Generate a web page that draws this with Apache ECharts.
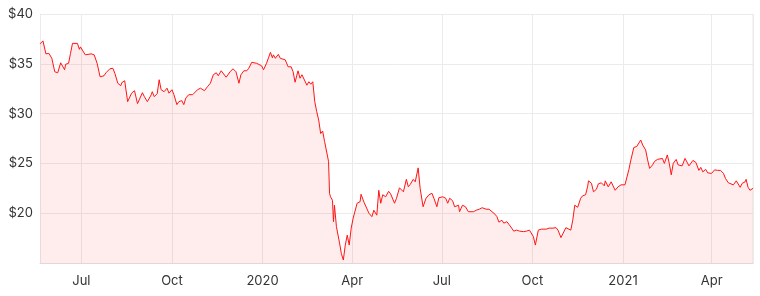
<!DOCTYPE html>
<html>
<head>
<meta charset="utf-8">
<script src="https://cdn.jsdelivr.net/npm/echarts@6/dist/echarts.min.js"></script>
<style>html,body{margin:0;padding:0;background:#fff}#c{width:760px;height:296px}</style>
</head>
<body>
<div id="c"></div>
<script>
const dates = [
"2019-05-20","2019-05-23","2019-05-26","2019-05-29","2019-06-01","2019-06-04","2019-06-07","2019-06-10","2019-06-12","2019-06-14",
"2019-06-15","2019-06-18","2019-06-20","2019-06-22","2019-06-24","2019-06-27","2019-06-29","2019-06-30","2019-07-02","2019-07-05",
"2019-07-07","2019-07-11","2019-07-14","2019-07-17","2019-07-20","2019-07-24","2019-07-26","2019-07-30","2019-08-02","2019-08-04",
"2019-08-07","2019-08-10","2019-08-11","2019-08-13","2019-08-14","2019-08-15","2019-08-17","2019-08-19","2019-08-21","2019-08-24",
"2019-08-25","2019-08-27","2019-08-29","2019-09-01","2019-09-03","2019-09-06","2019-09-10","2019-09-11","2019-09-13","2019-09-16",
"2019-09-18","2019-09-20","2019-09-23","2019-09-26","2019-09-28","2019-10-01","2019-10-03","2019-10-06","2019-10-08","2019-10-11",
"2019-10-13","2019-10-15","2019-10-18","2019-10-20","2019-10-22","2019-10-24","2019-10-27","2019-10-30","2019-11-03","2019-11-06",
"2019-11-09","2019-11-10","2019-11-12","2019-11-15","2019-11-17","2019-11-20","2019-11-25","2019-11-29","2019-12-02","2019-12-05",
"2019-12-08","2019-12-10","2019-12-13","2019-12-16","2019-12-18","2019-12-21","2019-12-23","2019-12-26","2019-12-28","2019-12-31",
"2020-01-02","2020-01-05","2020-01-07","2020-01-09","2020-01-11","2020-01-12","2020-01-14","2020-01-17","2020-01-19","2020-01-21",
"2020-01-24","2020-01-25","2020-01-27","2020-01-30","2020-02-01","2020-02-03","2020-02-06","2020-02-08","2020-02-10","2020-02-12",
"2020-02-15","2020-02-17","2020-02-19","2020-02-21","2020-02-23","2020-02-25","2020-02-27","2020-02-29","2020-03-02","2020-03-04",
"2020-03-06","2020-03-08","2020-03-09","2020-03-10","2020-03-12","2020-03-13","2020-03-14","2020-03-16","2020-03-18","2020-03-19",
"2020-03-21","2020-03-23","2020-03-25","2020-03-27","2020-03-29","2020-03-31","2020-04-02","2020-04-04","2020-04-06","2020-04-09",
"2020-04-10","2020-04-13","2020-04-15","2020-04-18","2020-04-21","2020-04-23","2020-04-26","2020-04-28","2020-04-30","2020-05-02",
"2020-05-05","2020-05-08","2020-05-10","2020-05-14","2020-05-16","2020-05-19","2020-05-21","2020-05-23","2020-05-26","2020-05-28",
"2020-05-30","2020-06-02","2020-06-04","2020-06-07","2020-06-09","2020-06-12","2020-06-15","2020-06-18","2020-06-21","2020-06-23",
"2020-06-26","2020-06-28","2020-07-02","2020-07-05","2020-07-07","2020-07-09","2020-07-12","2020-07-14","2020-07-18","2020-07-19",
"2020-07-22","2020-07-25","2020-07-28","2020-07-30","2020-08-02","2020-08-05","2020-08-08","2020-08-11","2020-08-15","2020-08-18",
"2020-08-21","2020-08-24","2020-08-26","2020-08-28","2020-08-31","2020-09-02","2020-09-05","2020-09-07","2020-09-10","2020-09-12",
"2020-09-15","2020-09-18","2020-09-22","2020-09-25","2020-09-28","2020-09-30","2020-10-02","2020-10-04","2020-10-07","2020-10-10",
"2020-10-15","2020-10-18","2020-10-22","2020-10-25","2020-10-27","2020-10-30","2020-11-01","2020-11-04","2020-11-06","2020-11-09",
"2020-11-11","2020-11-13","2020-11-16","2020-11-19","2020-11-21","2020-11-24","2020-11-26","2020-11-27","2020-11-30","2020-12-02",
"2020-12-05","2020-12-07","2020-12-10","2020-12-13","2020-12-14","2020-12-17","2020-12-20","2020-12-22","2020-12-24","2020-12-27",
"2020-12-30","2021-01-01","2021-01-03","2021-01-05","2021-01-07","2021-01-09","2021-01-10","2021-01-12","2021-01-15","2021-01-17",
"2021-01-19","2021-01-21","2021-01-24","2021-01-26","2021-01-28","2021-01-31","2021-02-02","2021-02-05","2021-02-07","2021-02-10",
"2021-02-12","2021-02-15","2021-02-17","2021-02-19","2021-02-21","2021-02-22","2021-02-24","2021-02-26","2021-02-28","2021-03-02",
"2021-03-05","2021-03-07","2021-03-09","2021-03-11","2021-03-13","2021-03-16","2021-03-18","2021-03-19","2021-03-21","2021-03-23",
"2021-03-26","2021-03-28","2021-03-30","2021-04-01","2021-04-04","2021-04-07","2021-04-10","2021-04-13","2021-04-15","2021-04-18",
"2021-04-20","2021-04-23","2021-04-26","2021-04-30","2021-05-02","2021-05-05","2021-05-06","2021-05-08","2021-05-10","2021-05-13"
];
const prices = [
37.0,37.3,36.0,36.05,35.55,34.2,34.1,35.1,35.05,34.4,
34.95,35.05,36.05,37.05,37.1,37.05,36.45,36.7,36.9,35.9,
36.1,36.0,35.9,35.05,33.7,33.8,34.1,34.5,34.55,34.05,
33.05,32.8,33.1,33.05,33.3,33.4,31.2,31.2,32.05,32.3,
32.2,31.0,31.05,32.1,31.7,31.2,31.9,32.2,31.7,32.0,
33.4,32.4,32.2,32.55,32.05,32.4,31.9,30.9,31.2,31.3,
30.9,31.55,31.9,32.1,31.9,31.7,32.4,32.55,32.3,32.7,
33.05,33.05,33.9,34.1,33.8,34.3,33.65,34.2,34.5,34.2,
33.05,33.9,34.3,34.3,34.55,35.15,35.3,35.05,35.05,34.8,
34.4,35.05,35.6,36.15,35.6,35.9,35.55,35.95,35.55,35.7,
35.4,35.55,34.7,34.7,34.2,33.15,34.3,33.55,33.9,33.7,
32.85,33.2,32.95,33.2,31.2,30.2,29.35,28.0,28.25,27.2,
27.35,25.2,22.0,21.65,21.3,19.15,20.8,18.65,18.8,17.1,
15.95,15.3,16.8,17.8,16.8,18.5,19.5,19.65,21.0,21.15,
21.9,21.1,21.15,20.0,19.65,20.3,19.8,22.3,21.0,21.85,
21.65,22.2,21.95,21.0,21.5,22.55,22.4,22.15,23.4,22.65,
22.9,23.4,23.15,24.55,22.5,20.65,21.5,21.85,22.0,21.5,
20.65,21.55,21.65,21.5,21.0,21.5,21.25,20.65,20.8,20.15,
20.8,20.65,20.15,20.3,20.15,20.3,20.4,20.55,20.4,20.4,
20.15,19.9,19.65,19.1,19.3,19.0,19.15,18.9,18.5,18.2,
18.3,18.2,18.15,18.2,18.3,18.5,17.65,16.8,18.3,18.4,
18.4,18.5,18.5,18.55,18.3,17.55,17.4,18.55,18.4,18.3,
19.3,20.8,20.6,21.5,21.75,21.85,22.65,23.25,23.0,22.15,
22.4,22.95,23.05,22.75,23.25,22.65,23.15,23.05,22.3,22.65,
22.85,22.95,22.85,23.0,24.4,25.35,25.3,26.6,26.7,26.85,
27.35,26.85,26.35,25.35,24.5,24.85,25.2,25.4,25.3,25.5,
25.0,25.85,25.0,23.85,25.0,24.85,25.4,24.85,25.0,24.75,
25.5,25.6,24.75,24.95,25.3,25.1,25.0,24.3,24.6,24.15,
24.4,24.05,24.05,24.0,24.35,24.3,24.3,24.0,23.5,23.05,
22.85,22.85,23.25,22.6,23.0,23.15,23.4,22.6,22.3,22.5
];
const yMin = 15, yMax = 40, yStep = 5;
const monthNames = ["Jan","Feb","Mar","Apr","May","Jun","Jul","Aug","Sep","Oct","Nov","Dec"];

const seriesData = dates.map((d, i) => [d, prices[i]]);
const chart = echarts.init(document.getElementById('c'), null, {renderer: 'canvas'});
const font = 'Inter, "Open Sans", sans-serif';
chart.setOption({
  animation: false,
  grid: {left: 40, right: 7, top: 14, bottom: 33, show: false},
  xAxis: {
    type: 'time',
    min: dates[0],
    max: dates[dates.length - 1],
    splitNumber: 8,
    axisLine: {show: true, lineStyle: {color: '#e3d6d6', width: 1}},
    axisTick: {show: false},
    splitLine: {show: true, lineStyle: {color: '#ebebeb', width: 1}},
    axisLabel: {
      color: '#333', fontSize: 13, fontFamily: font, margin: 12,
      showMinLabel: false, showMaxLabel: false,
      formatter: function (v) {
        const d = new Date(v);
        return d.getMonth() === 0 ? String(d.getFullYear()) : monthNames[d.getMonth()];
      },
      rich: {}
    }
  },
  yAxis: {
    type: 'value',
    min: yMin, max: yMax, interval: yStep,
    position: 'left',
    axisLine: {show: true, lineStyle: {color: '#ebebeb'}},
    axisTick: {show: false},
    splitLine: {show: true, lineStyle: {color: '#ebebeb', width: 1}},
    axisLabel: {
      color: '#333', fontSize: 13, fontFamily: font, margin: 7,
      showMinLabel: false,
      formatter: v => '$' + v
    }
  },
  series: [{
    type: 'line',
    data: seriesData,
    showSymbol: false,
    symbol: 'none',
    lineStyle: {color: '#ff1414', width: 1},
    areaStyle: {color: 'rgba(250,60,60,0.13)'},
    z: 3
  }, {
    type: 'line', data: [[dates[dates.length-1], yMin],[dates[dates.length-1], yMax]],
    showSymbol: false, symbol: 'none', silent: true,
    lineStyle: {color: '#ebebeb', width: 1}, z: 1
  }]
});
</script>
</body>
</html>
